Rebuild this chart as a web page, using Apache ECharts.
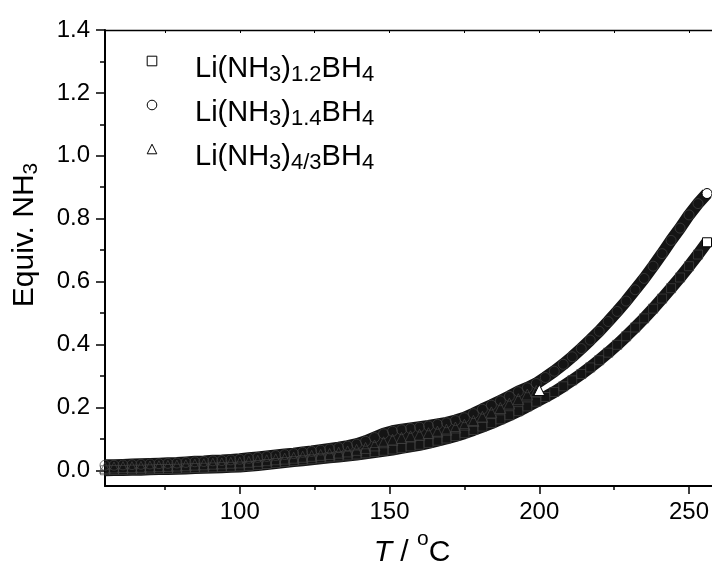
<!DOCTYPE html>
<html><head><meta charset="utf-8">
<script src="https://cdn.jsdelivr.net/npm/echarts@6/dist/echarts.min.js"></script>
<style>html,body{margin:0;padding:0;background:#fff}#c{width:712px;height:562px}</style>
</head><body><div id="c"></div>
<script>
// ---- data ----
const temps = [55,58,61,64,67,70,73,76,79,82,85,88,91,94,97,100,103,106,109,112,115,118,121,124,127,130,133,136,139,142,145,148,151,154,157,160,163,166,169,172,175,178,181,184,187,190,193,196,199,202,205,208,211,214,217,220,223,226,229,232,235,238,241,244,247,250,253,256];
const tempsTri = [55,58,61,64,67,70,73,76,79,82,85,88,91,94,97,100,103,106,109,112,115,118,121,124,127,130,133,136,139,142,145,148,151,154,157,160,163,166,169,172,175,178,181,184,187,190,193,196,199,200];
const valSquare = [0.000,0.001,0.001,0.002,0.002,0.003,0.004,0.004,0.005,0.006,0.007,0.008,0.009,0.010,0.011,0.012,0.014,0.017,0.020,0.023,0.026,0.029,0.032,0.035,0.038,0.041,0.044,0.047,0.050,0.054,0.058,0.062,0.066,0.071,0.076,0.081,0.087,0.094,0.101,0.109,0.118,0.128,0.139,0.150,0.162,0.175,0.188,0.203,0.218,0.233,0.249,0.267,0.286,0.306,0.327,0.350,0.374,0.399,0.426,0.454,0.483,0.514,0.546,0.579,0.613,0.649,0.686,0.725];
const valCircle = [0.016,0.016,0.017,0.018,0.019,0.020,0.021,0.022,0.023,0.025,0.027,0.028,0.030,0.031,0.033,0.035,0.038,0.041,0.044,0.047,0.050,0.053,0.057,0.060,0.064,0.068,0.072,0.077,0.083,0.092,0.104,0.116,0.124,0.129,0.133,0.137,0.141,0.146,0.151,0.158,0.167,0.180,0.194,0.207,0.221,0.235,0.250,0.262,0.276,0.295,0.315,0.337,0.361,0.387,0.414,0.442,0.473,0.505,0.538,0.574,0.610,0.649,0.689,0.731,0.770,0.812,0.848,0.880];
const valTriangle = [0.008,0.009,0.010,0.010,0.011,0.012,0.013,0.014,0.015,0.016,0.018,0.019,0.021,0.022,0.024,0.025,0.027,0.030,0.032,0.035,0.037,0.040,0.043,0.046,0.049,0.052,0.056,0.060,0.065,0.071,0.079,0.089,0.097,0.103,0.108,0.113,0.118,0.123,0.129,0.136,0.145,0.157,0.170,0.184,0.198,0.212,0.226,0.241,0.252,0.255];
const seriesNames = ['Li(NH3)1.2BH4','Li(NH3)1.4BH4','Li(NH3)4/3BH4'];
const legendRich = ['Li(NH{s|3}){s|1.2}BH{s|4}','Li(NH{s|3}){s|1.4}BH{s|4}','Li(NH{s|3}){s|4/3}BH{s|4}'];
const xTickLabels = [100,150,200,250];
const xMinorTicks = [75,125,175,225];
const xTopTicks = [75,100,125,150,175,200,225,250];
const yTickLabels = [0,0.2,0.4,0.6,0.8,1.0,1.2,1.4];
const yMinorTicks = [0.1,0.3,0.5,0.7,0.9,1.1,1.3];

// ---- chart ----
const FF = "'Liberation Sans', Arial, Helvetica, sans-serif";
const chart = echarts.init(document.getElementById('c'), null, {renderer:'canvas'});
function mk(name, xs, ys, symbol, size) {
  const data = xs.map((x, i) => i === xs.length - 1
    ? {value:[x, ys[i]], itemStyle:{color:'#fff', borderColor:'#000', borderWidth:1}}
    : [x, ys[i]]);
  return {
    type:'line', name, data, symbol, symbolSize:size, showAllSymbol:true,
    xAxisIndex:0, yAxisIndex:0, silent:true, animation:false,
    lineStyle:{color:'#141414', width:12},
    itemStyle:{color:'rgba(0,0,0,0)', borderColor:'#444', borderWidth:0.7},
    emphasis:{disabled:true}
  };
}
const xBase = {type:'value', min:55, max:260, splitLine:{show:false}};
const yBase = {type:'value', min:-0.05, max:1.4, splitLine:{show:false}};
const option = {
  backgroundColor:'#fff',
  animation:false,
  grid:{left:105, top:30, right:-7, bottom:76, containLabel:false, outerBoundsMode:'none'},
  legend:{
    orient:'vertical', left:114, top:36, padding:0, itemGap:-6,
    itemWidth:76, itemHeight:12, data:seriesNames, selectedMode:false,
    formatter: name => legendRich[seriesNames.indexOf(name)],
    itemStyle:{color:'#fff', borderColor:'#000', borderWidth:1},
    lineStyle:{width:0, opacity:0},
    textStyle:{fontFamily:FF, fontSize:29, color:'#000', lineHeight:34, padding:[16,0,0,0],
      rich:{s:{fontFamily:FF, fontSize:22, color:'#000', lineHeight:26, verticalAlign:'bottom'}}}
  },
  xAxis:[
    Object.assign({}, xBase, {
      position:'bottom',
      name:'{i|T}{n| / }{u|o}{n|C}', nameLocation:'middle', nameGap:41,
      nameTextStyle:{fontFamily:FF, fontSize:30, color:'#000', lineHeight:39,
        rich:{
          i:{fontFamily:FF, fontStyle:'italic', fontSize:30, color:'#000', lineHeight:39, verticalAlign:'bottom'},
          n:{fontFamily:FF, fontSize:30, color:'#000', lineHeight:39, verticalAlign:'bottom'},
          u:{fontFamily:FF, fontSize:21, color:'#000', lineHeight:39, verticalAlign:'top'}
        }},
      axisLine:{show:true, onZero:false, lineStyle:{color:'#000', width:2}},
      axisTick:{show:true, inside:false, length:8, customValues:xTickLabels, lineStyle:{color:'#000', width:1.5}},
      axisLabel:{show:true, customValues:xTickLabels, margin:14, fontFamily:FF, fontSize:24, color:'#000'}
    }),
    Object.assign({}, xBase, {
      position:'top',
      axisLine:{show:true, onZero:false, lineStyle:{color:'#000', width:1.3}},
      axisTick:{show:true, inside:true, length:3, customValues:xTopTicks, lineStyle:{color:'#000', width:1}},
      axisLabel:{show:false}
    }),
    Object.assign({}, xBase, {
      position:'bottom',
      axisLine:{show:false, onZero:false},
      axisTick:{show:true, inside:false, length:4, customValues:xMinorTicks, lineStyle:{color:'#000', width:1.5}},
      axisLabel:{show:false}
    })
  ],
  yAxis:[
    Object.assign({}, yBase, {
      position:'left',
      name:'Equiv. NH{s|3}', nameLocation:'middle', nameGap:63, nameRotate:90,
      nameTextStyle:{fontFamily:FF, fontSize:30, color:'#000', lineHeight:34, padding:[0,0,0,46],
        rich:{s:{fontFamily:FF, fontSize:21, color:'#000', lineHeight:27, verticalAlign:'bottom'}}},
      axisLine:{show:true, onZero:false, lineStyle:{color:'#000', width:2}},
      axisTick:{show:true, inside:false, length:9, customValues:yTickLabels, lineStyle:{color:'#000', width:1.5}},
      axisLabel:{show:true, customValues:yTickLabels, margin:15, fontFamily:FF, fontSize:24, color:'#000',
        formatter: v => Number(v).toFixed(1)}
    }),
    Object.assign({}, yBase, {
      position:'left',
      axisLine:{show:false, onZero:false},
      axisTick:{show:true, inside:false, length:5, customValues:yMinorTicks, lineStyle:{color:'#000', width:1.5}},
      axisLabel:{show:false}
    })
  ],
  series:[
    mk(seriesNames[0], temps, valSquare, 'rect', 9),
    mk(seriesNames[1], temps, valCircle, 'circle', 10),
    mk(seriesNames[2], tempsTri, valTriangle, 'triangle', 11)
  ]
};
chart.setOption(option);
</script>
</body></html>
